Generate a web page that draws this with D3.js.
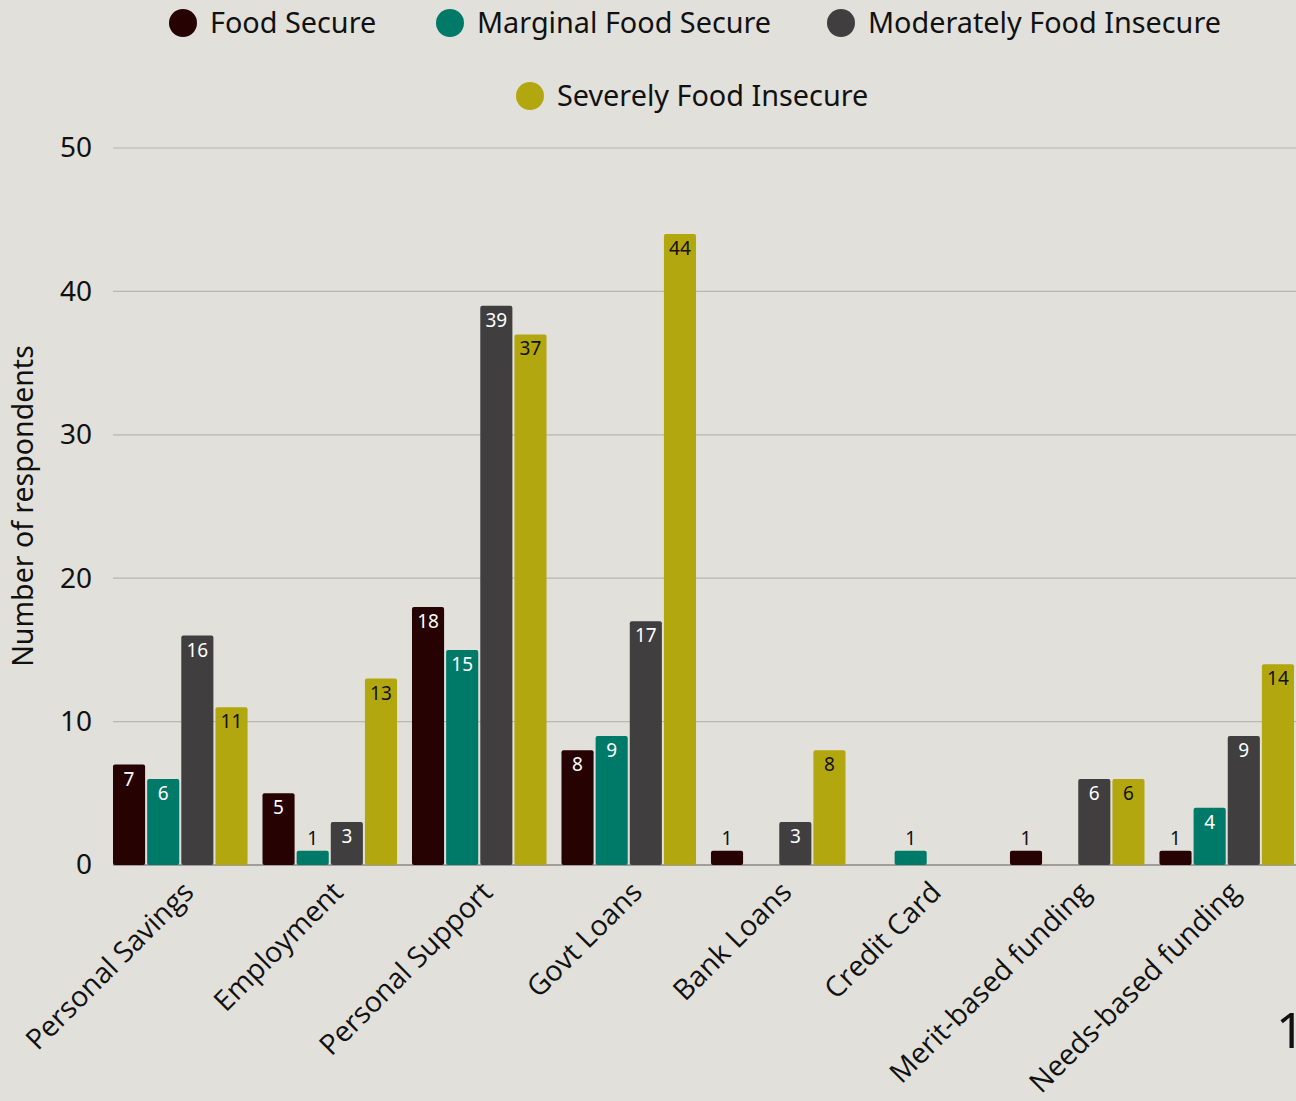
<!DOCTYPE html>
<html>
<head>
<meta charset="utf-8">
<script src="https://cdn.jsdelivr.net/npm/d3@7"></script>
<style>
  html, body { margin: 0; padding: 0; background: #e1e0da; }
  svg { display: block; }
</style>
</head>
<body>
<div id="chart"></div>
<script>
// chart data
const categories = ['Personal Savings', 'Employment', 'Personal Support', 'Govt Loans',
  'Bank Loans', 'Credit Card', 'Merit-based funding', 'Needs-based funding'];
const seriesNames = ['Food Secure', 'Marginal Food Secure', 'Moderately Food Insecure', 'Severely Food Insecure'];
const foodSecure = [7, 5, 18, 8, 1, 0, 1, 1];
const marginalFoodSecure = [6, 1, 15, 9, 0, 1, 0, 4];
const moderatelyInsecure = [16, 3, 39, 17, 3, 0, 6, 9];
const severelyInsecure = [11, 13, 37, 44, 8, 0, 6, 14];
const yTicks = [0, 10, 20, 30, 40, 50];

const colors = ['#270202', '#007a68', '#403e3f', '#b3a70f'];
const labelColors = ['#ffffff', '#ffffff', '#ffffff', '#111111'];
const font = '"Noto Sans", Roboto, sans-serif';

const width = 1296, height = 1101;
const margin = { top: 148, right: 2, bottom: 236, left: 113 };

const svg = d3.select('#chart').append('svg')
  .attr('width', width)
  .attr('height', height);

const allSeries = [foodSecure, marginalFoodSecure, moderatelyInsecure, severelyInsecure];

const x0 = d3.scaleBand()
  .domain(categories)
  .range([margin.left, width - margin.right])
  .paddingInner(0.1)
  .paddingOuter(0);

const x1 = d3.scaleBand()
  .domain(d3.range(seriesNames.length))
  .range([0, x0.bandwidth()])
  .paddingInner(0.06);

const y = d3.scaleLinear()
  .domain([0, 50])
  .range([height - margin.bottom, margin.top]);

// gridlines
svg.append('g')
  .selectAll('line')
  .data(yTicks.filter(d => d > 0))
  .join('line')
  .attr('x1', margin.left)
  .attr('x2', width)
  .attr('y1', d => y(d))
  .attr('y2', d => y(d))
  .attr('stroke', '#b8b7b1')
  .attr('stroke-width', 1.2);

// y axis labels
const yAxis = svg.append('g')
  .attr('transform', `translate(${margin.left},0)`)
  .call(d3.axisLeft(y).tickValues(yTicks).tickSize(0).tickPadding(21));
yAxis.select('.domain').remove();
yAxis.selectAll('text')
  .attr('font-family', font)
  .attr('font-size', 28)
  .attr('fill', '#111');

// baseline
svg.append('line')
  .attr('x1', margin.left)
  .attr('x2', width)
  .attr('y1', y(0))
  .attr('y2', y(0))
  .attr('stroke', '#8a8984')
  .attr('stroke-width', 1.5);

// y title
svg.append('text')
  .attr('transform', 'translate(33,506) rotate(-90)')
  .attr('text-anchor', 'middle')
  .attr('font-family', font)
  .attr('font-size', 28.5)
  .attr('fill', '#111')
  .text('Number of respondents');

// bars
const groups = svg.append('g')
  .selectAll('g')
  .data(categories)
  .join('g')
  .attr('transform', d => `translate(${x0(d)},0)`);

const cells = groups.selectAll('g')
  .data((c, ci) => allSeries.map((s, si) => ({ si, value: s[ci] })))
  .join('g');

cells.filter(d => d.value > 0)
  .append('rect')
  .attr('x', d => x1(d.si))
  .attr('width', x1.bandwidth())
  .attr('y', d => y(d.value))
  .attr('height', d => y(0) - y(d.value))
  .attr('rx', 2)
  .attr('fill', d => colors[d.si]);

cells.filter(d => d.value > 0)
  .append('text')
  .attr('x', d => x1(d.si) + x1.bandwidth() / 2)
  .attr('y', d => d.value <= 1 ? y(d.value) - 6 : y(d.value) + 21)
  .attr('text-anchor', 'middle')
  .attr('font-family', font)
  .attr('font-size', 19)
  .attr('fill', d => d.value <= 1 ? '#111' : labelColors[d.si])
  .text(d => d.value);

// x axis labels
svg.append('g')
  .selectAll('text')
  .data(categories)
  .join('text')
  .attr('transform', d => `translate(${x0(d) + x0.bandwidth() / 2 + 15},${y(0) + 29}) rotate(-45)`)
  .attr('text-anchor', 'end')
  .attr('font-family', '"Open Sans", sans-serif')
  .attr('font-size', 28.5)
  .attr('fill', '#111')
  .text(d => d);

// legend
const legendPos = [
  { cx: 183, cy: 23 },
  { cx: 450, cy: 23 },
  { cx: 841, cy: 23 },
  { cx: 530, cy: 96 }
];
const legend = svg.append('g')
  .selectAll('g')
  .data(seriesNames)
  .join('g')
  .attr('transform', (d, i) => `translate(${legendPos[i].cx},${legendPos[i].cy})`);
legend.append('circle')
  .attr('r', 14)
  .attr('fill', (d, i) => colors[i]);
legend.append('text')
  .attr('x', 27)
  .attr('y', 10)
  .attr('font-family', font)
  .attr('font-size', 28.8)
  .attr('fill', '#111')
  .text(d => d);

// stray page number at the bottom right
svg.append('text')
  .attr('x', 1276)
  .attr('y', 1048)
  .attr('font-family', font)
  .attr('font-size', 50)
  .attr('fill', '#111')
  .text('1');
</script>
</body>
</html>
